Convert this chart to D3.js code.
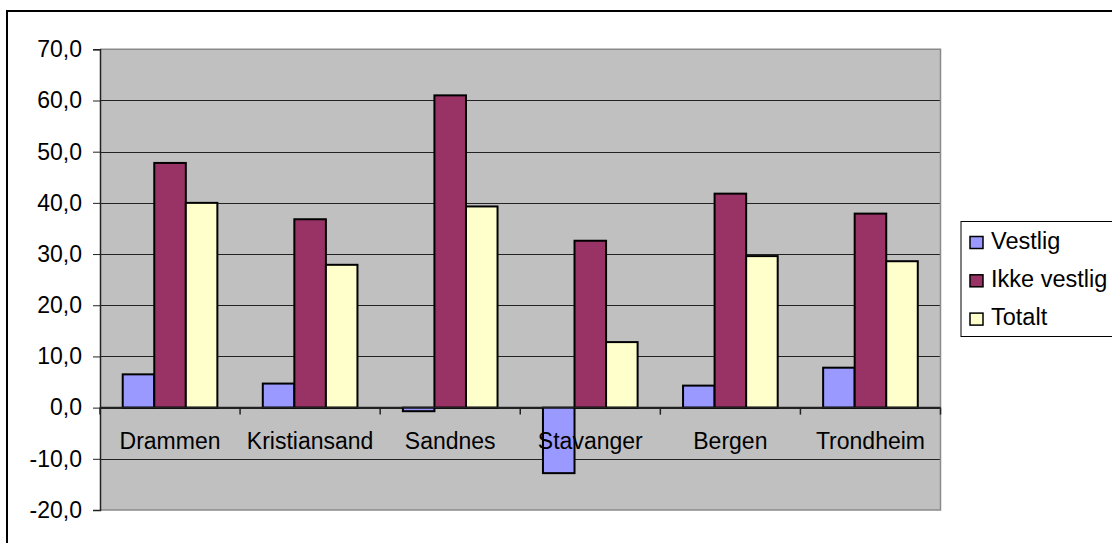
<!DOCTYPE html>
<html>
<head>
<meta charset="utf-8">
<script src="https://cdn.jsdelivr.net/npm/d3@7"></script>
<style>
  body { margin: 0; background: #fff; }
  text { font-family: "Liberation Sans", Arial, sans-serif; }
</style>
</head>
<body>
<svg id="chart" width="1112" height="543"></svg>
<script>
const cities = ["Drammen", "Kristiansand", "Sandnes", "Stavanger", "Bergen", "Trondheim"];
const seriesNames = ["Vestlig", "Ikke vestlig", "Totalt"];
const vestlig = [6.5, 4.7, -0.7, -12.8, 4.3, 7.8];
const ikkeVestlig = [47.8, 36.8, 61.0, 32.6, 41.8, 37.9];
const totalt = [40.0, 27.9, 39.3, 12.8, 29.6, 28.6];
const yTicks = [-20, -10, 0, 10, 20, 30, 40, 50, 60, 70];
const colors = ["#9999FF", "#993366", "#FFFFCC"];

const seriesValues = [vestlig, ikkeVestlig, totalt];
const data = cities.map((c, i) => ({
  city: c,
  values: seriesNames.map((s, j) => ({ key: s, value: seriesValues[j][i] }))
}));

const svg = d3.select("#chart");
const plot = { left: 100, right: 940.5, top: 49.3, bottom: 510 };

// outer chart frame
svg.append("rect")
    .attr("x", 7).attr("y", 11)
    .attr("width", 1120).attr("height", 560)
    .attr("fill", "#fff")
    .attr("stroke", "#000")
    .attr("stroke-width", 2);

const x0 = d3.scaleBand()
    .domain(cities)
    .range([plot.left, plot.right])
    .padding(0);

const x1 = d3.scaleBand()
    .domain(seriesNames)
    .range([0, x0.bandwidth()])
    .paddingInner(0)
    .paddingOuter(0.72);

const y = d3.scaleLinear()
    .domain([-20, 70])
    .range([plot.bottom, plot.top]);

const fmt = d => d3.format(".1f")(d).replace(".", ",").replace("\u2212", "-");

// plot background
svg.append("rect")
    .attr("x", plot.left).attr("y", plot.top)
    .attr("width", plot.right - plot.left)
    .attr("height", plot.bottom - plot.top)
    .attr("fill", "#C0C0C0");

// grid lines
svg.append("g")
  .selectAll("line")
  .data(yTicks.filter(d => d > -20 && d < 70))
  .join("line")
    .attr("x1", plot.left).attr("x2", plot.right)
    .attr("y1", d => Math.round(y(d)) + 0.5)
    .attr("y2", d => Math.round(y(d)) + 0.5)
    .attr("stroke", "#222")
    .attr("stroke-width", 1);

// right / top / bottom border of plot
svg.append("path")
    .attr("d", `M${plot.left},${plot.top}H${plot.right}V${plot.bottom}H${plot.left}`)
    .attr("fill", "none")
    .attr("stroke", "#8a8a8a")
    .attr("stroke-width", 1.5);

// bars
const groups = svg.append("g")
  .selectAll("g")
  .data(data)
  .join("g")
    .attr("transform", d => `translate(${x0(d.city)},0)`);

groups.selectAll("rect")
  .data(d => d.values)
  .join("rect")
    .attr("x", d => x1(d.key))
    .attr("width", x1.bandwidth())
    .attr("y", d => y(Math.max(0, d.value)))
    .attr("height", d => Math.abs(y(d.value) - y(0)))
    .attr("fill", (d, i) => colors[i])
    .attr("stroke", "#000")
    .attr("stroke-width", 2);

// y axis
const yAxis = svg.append("g")
    .attr("transform", `translate(${plot.left},0)`)
    .call(d3.axisLeft(y).tickValues(yTicks).tickFormat(fmt).tickSize(7).tickPadding(11));
yAxis.select(".domain").attr("stroke", "#222").attr("stroke-width", 1.5);
yAxis.selectAll(".tick line").attr("stroke", "#222");
yAxis.selectAll("text")
    .attr("font-size", 23)
    .attr("fill", "#000")
    .attr("font-family", "Liberation Sans, Arial, sans-serif");

// x axis at zero
const xAxis = svg.append("g")
    .attr("transform", `translate(0,${y(0)})`);
xAxis.append("line")
    .attr("x1", plot.left).attr("x2", plot.right)
    .attr("stroke", "#222").attr("stroke-width", 1.5);
xAxis.selectAll(".xtick")
  .data(cities.map(c => x0(c)).concat([plot.right]))
  .join("line")
    .attr("class", "xtick")
    .attr("x1", d => d).attr("x2", d => d)
    .attr("y1", 0).attr("y2", 7)
    .attr("stroke", "#222").attr("stroke-width", 1.5);

// category labels (drawn on top of bars)
svg.append("g")
  .selectAll("text")
  .data(cities)
  .join("text")
    .attr("x", d => x0(d) + x0.bandwidth() / 2)
    .attr("y", 449)
    .attr("text-anchor", "middle")
    .attr("font-size", 23)
    .attr("fill", "#000")
    .text(d => d);

// legend
const legend = svg.append("g");
legend.append("rect")
    .attr("x", 961).attr("y", 221.5)
    .attr("width", 170).attr("height", 115)
    .attr("fill", "#fff")
    .attr("stroke", "#000")
    .attr("stroke-width", 1);

const items = legend.selectAll("g")
  .data(seriesNames)
  .join("g")
    .attr("transform", (d, i) => `translate(0,${248.5 + i * 38.3})`);

items.append("rect")
    .attr("x", 970).attr("y", -12)
    .attr("width", 13).attr("height", 12)
    .attr("fill", (d, i) => colors[i])
    .attr("stroke", "#000")
    .attr("stroke-width", 1.5);

items.append("text")
    .attr("x", 991)
    .attr("y", 0)
    .attr("font-size", 23.5)
    .attr("fill", "#000")
    .text(d => d);
</script>
</body>
</html>
